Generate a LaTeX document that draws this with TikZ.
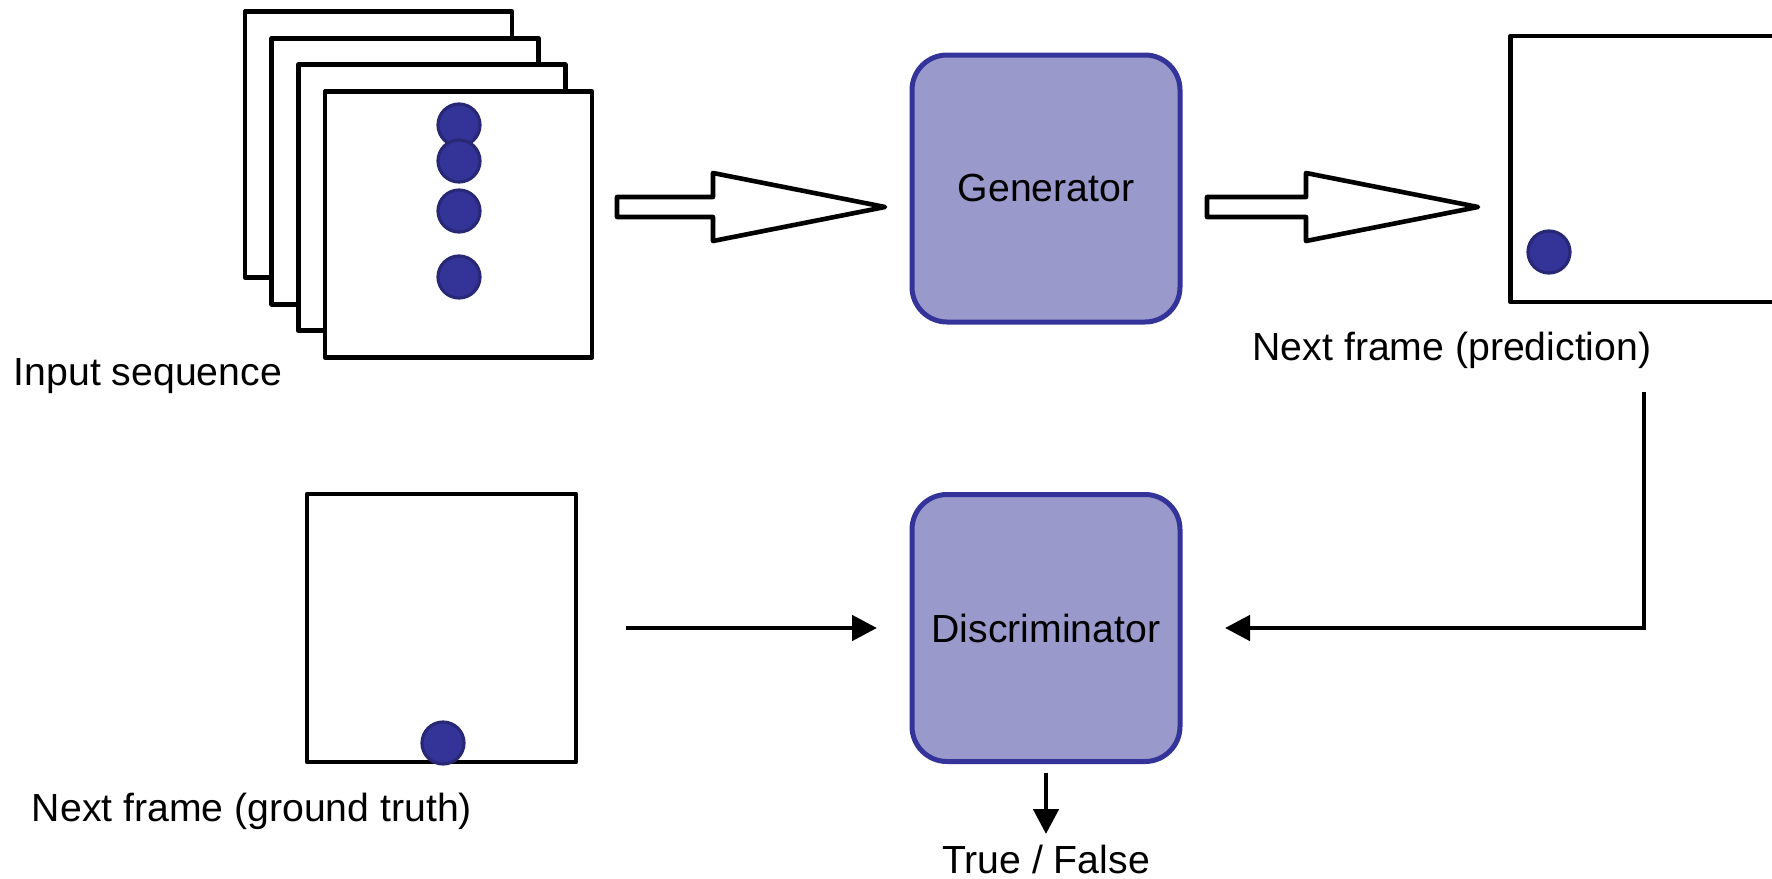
\documentclass[tikz,border=0pt]{standalone}
\usepackage{fontspec}
\setmainfont{Liberation Sans}
\usetikzlibrary{arrows.meta}
\definecolor{boxfill}{RGB}{153,153,204}
\definecolor{boxline}{RGB}{51,51,153}
\definecolor{ballfill}{RGB}{52,52,152}
\definecolor{ballline}{RGB}{40,40,118}
\newcommand\diafont{\fontsize{19.6pt}{23pt}\selectfont}

\begin{document}
\begin{tikzpicture}[x=0.5pt,y=-0.5pt,
  frame/.style={draw=black, fill=white, line width=2.4pt, inner sep=0pt, outer sep=0pt,
    minimum width=133.5pt, minimum height=133pt, line join=round},
  ball/.style={circle, draw=ballline, fill=ballfill, line width=1.6pt, inner sep=0pt,
    outer sep=0pt, minimum size=21pt},
  netbox/.style={draw=boxline, fill=boxfill, line width=2.5pt, rounded corners=17.5pt,
    minimum width=134pt, minimum height=133.5pt, inner sep=0pt, outer sep=0pt, font=\diafont},
  txt/.style={anchor=base, inner sep=0pt, font=\diafont},
  conn/.style={line width=2.4pt, -{Triangle[length=12.5pt,width=12.5pt]}},
  hollow/.style={draw=black, fill=white, line width=2.3pt, line join=round},
]
\useasboundingbox (0,0) rectangle (1772,878);
\clip (0,0) rectangle (1772,878);

% stacked input frames
\node[frame] (f1) at (378.5,144.5) {};
\node[frame] (f2) at (405.2,171.2) {};
\node[frame] (f3) at (431.8,197.8) {};
\node[frame] (f4) at (458.5,224.5) {};
\node[ball] (b1) at (459,125) {};
\node[ball] (b2) at (459,161) {};
\node[ball] (b3) at (459,211) {};
\node[ball] (b4) at (459,277) {};
\node[txt] (insq) at (148,385) {Input sequence};

% generator and its prediction
\node[netbox] (gen) at (1046,188.5) {Generator};
\node[frame] (pred) at (1644,169) {};
\node[ball] (pb) at (1549,252) {};
\node[txt] (predl) at (1452,360) {Next frame (prediction)};

% hollow arrows
\coordinate (h1) at (617,207);
\draw[hollow] (h1) -- ++(0,-10) -- ++(96,0) -- ++(0,-24) -- ++(172,34)
  -- ++(-172,34) -- ++(0,-24) -- ++(-96,0) -- cycle;
\coordinate (h2) at (1207,207);
\draw[hollow] (h2) -- ++(0,-10) -- ++(99,0) -- ++(0,-24) -- ++(172,34)
  -- ++(-172,34) -- ++(0,-24) -- ++(-99,0) -- cycle;

% ground truth and discriminator
\node[frame, minimum width=134.5pt, minimum height=134pt] (gt) at (441.5,628) {};
\node[ball] (gb) at (443,743) {};
\node[txt] (gtl) at (252,821) {Next frame (ground truth)};
\node[netbox] (disc) at (1046,628) {Discriminator};
\node[txt] (tf) at (1046,873) {True / False};
\coordinate (out) at (1046,834);

% connectors
\draw[conn, shorten <=25pt, shorten >=17.5pt] (gt.east) -- (disc.west);
\draw[conn, shorten <=45pt, shorten >=22.5pt] (pred.south) |- (disc.east);
\draw[conn, shorten <=5.5pt] (disc.south) -- (out);
\end{tikzpicture}
\end{document}
